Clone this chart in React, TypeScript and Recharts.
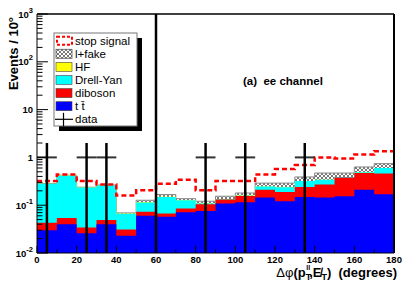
import React from 'react';
import {
  ComposedChart,
  Area,
  Line,
  Scatter,
  ErrorBar,
  XAxis,
  YAxis,
  ReferenceLine,
} from 'recharts';

const FONT = "'Liberation Sans', Arial, Helvetica, sans-serif";

// lower edge of each 10 degree bin
const binLow = [0, 10, 20, 30, 40, 50, 60, 70, 80, 90, 100, 110, 120, 130, 140, 150, 160, 170];

// per-process contributions (events / 10 deg)
const ttbar = [0.030, 0.040, 0.026, 0.040, 0.023, 0.060, 0.057, 0.071, 0.076, 0.108, 0.115, 0.145, 0.121, 0.149, 0.145, 0.154, 0.21, 0.17];
const diboson = [0.013, 0.014, 0.008, 0.009, 0.008, 0.013, 0.010, 0.014, 0.029, 0.023, 0.041, 0.065, 0.069, 0.091, 0.125, 0.226, 0.26, 0.29];
const drellYan = [0.237, 0.366, 0.200, 0.211, 0.035, 0.041, 0.082, 0.042, 0.003, 0.002, 0.002, 0.035, 0.047, 0.08, 0.07, 0.01, 0.02, 0.14];
const heavyFlavour = [0.001, 0.001, 0.001, 0.001, 0.001, 0.001, 0.001, 0.001, 0.001, 0.001, 0.001, 0.001, 0.001, 0.001, 0.001, 0.001, 0.001, 0.001];
const lepFake = [0.004, 0.004, 0.003, 0.004, 0.002, 0.012, 0.017, 0.009, 0.012, 0.020, 0.021, 0.044, 0.052, 0.069, 0.13, 0.08, 0.14, 0.14];
const stopSignal = [0.035, 0.015, 0.082, 0.005, 0.091, 0.078, 0.113, 0.203, 0.084, 0.166, 0.14, 0.15, 0.28, 0.30, 0.53, 0.48, 0.52, 0.61];

// data points
const dataX = [5, 25, 35, 85, 105, 135];
const dataY = [1, 1, 1, 1, 1, 1];
const dataErrLow = [0.99, 0.99, 0.99, 0.99, 0.99, 0.99];
const dataErrHigh = [1, 1, 1, 1, 1, 1];
const dataHalfWidth = [5, 5, 5, 5, 5, 5];

const xTicks = [0, 10, 20, 30, 40, 50, 60, 70, 80, 90, 100, 110, 120, 130, 140, 150, 160, 170, 180];
const yMajor = [0.01, 0.1, 1, 10, 100, 1000];
const yTicks: number[] = [];
yMajor.forEach((m, i) => {
  yTicks.push(m);
  if (i < yMajor.length - 1) for (let k = 2; k <= 9; k++) yTicks.push(m * k);
});

// stacked cumulative table, with a closing row at 180 for the steps
const rows = [...binLow, 180].map((x, i) => {
  const j = Math.min(i, binLow.length - 1);
  const tt = ttbar[j];
  const dib = tt + diboson[j];
  const dy = dib + drellYan[j];
  const hf = dy + heavyFlavour[j];
  const fake = hf + lepFake[j];
  const sig = fake + stopSignal[j];
  return { x, tt, dib, dy, hf, fake, sig };
});

const points = dataX.map((x, i) => ({
  x,
  y: dataY[i],
  ey: [dataErrLow[i], dataErrHigh[i]],
  ex: dataHalfWidth[i],
}));

function XTick(props: any) {
  const { x, y, payload } = props;
  const major = payload.value % 20 === 0;
  return (
    <g>
      <line x1={x} x2={x} y1={y} y2={y - (major ? 7 : 3.5)} stroke="#000" />
      {major && (
        <text x={x} y={y + 9.5} textAnchor="middle" fontSize={9.5} fontWeight="bold" fontFamily={FONT}>
          {payload.value}
        </text>
      )}
    </g>
  );
}

function YTick(props: any) {
  const { x, y, payload } = props;
  const lg = Math.log10(payload.value);
  const e = Math.round(lg);
  const major = Math.abs(lg - e) < 1e-6;
  let label: React.ReactNode = null;
  if (major) {
    label =
      e === 0 || e === 1 ? (
        String(Math.pow(10, e))
      ) : (
        <>
          10
          <tspan dy={-5} fontSize={7.5}>
            {e}
          </tspan>
        </>
      );
  }
  return (
    <g>
      <line x1={x} x2={x + (major ? 11 : 5.5)} y1={y} y2={y} stroke="#000" />
      {major && (
        <text x={x - 4} y={y + 3.5} textAnchor="end" fontSize={9.5} fontWeight="bold" fontFamily={FONT}>
          {label}
        </text>
      )}
    </g>
  );
}

const legendRows = [
  { name: 'stop signal', kind: 'signal' },
  { name: 'l+fake', kind: 'hatch' },
  { name: 'HF', kind: '#ffff00' },
  { name: 'Drell-Yan', kind: '#00ffff' },
  { name: 'diboson', kind: '#ff0000' },
  { name: 't t\u0304', kind: '#0000ff' },
  { name: 'data', kind: 'data' },
];

function Overlay() {
  return (
    <svg
      width={415}
      height={282}
      style={{ position: 'absolute', left: 0, top: 0, pointerEvents: 'none' }}
    >
      <defs>
        <pattern id="hatchL" width="4" height="4" patternUnits="userSpaceOnUse">
          <rect width="4" height="4" fill="#fff" />
          <path d="M0,0 L4,4 M4,0 L0,4" stroke="#555" strokeWidth="0.8" />
        </pattern>
      </defs>
      {/* frame */}
      <line x1={37} x2={394} y1={14} y2={14} stroke="#000" strokeWidth={1.5} />
      <line x1={394} x2={394} y1={14} y2={253} stroke="#000" strokeWidth={2} />

      {/* legend */}
      <rect x={59} y={38} width={83} height={93} fill="#000" />
      <rect x={54} y={33} width={83} height={93} fill="#fff" stroke="#777" strokeWidth={1} />
      {legendRows.map((r, i) => {
        const cy = 40.7 + i * 13.1;
        let sw: React.ReactNode;
        if (r.kind === 'signal') {
          sw = (
            <rect x={57} y={cy - 4} width={15} height={8} fill="#fff" stroke="#ff0000" strokeWidth={2} strokeDasharray="3 2" />
          );
        } else if (r.kind === 'hatch') {
          sw = <rect x={56} y={cy - 4.5} width={16} height={9} fill="url(#hatchL)" stroke="#555" strokeWidth={0.8} />;
        } else if (r.kind === 'data') {
          sw = (
            <g>
              <line x1={55} x2={73} y1={cy} y2={cy} stroke="#000" strokeWidth={1.2} />
              <line x1={63.5} x2={63.5} y1={cy - 6.5} y2={cy + 7} stroke="#000" strokeWidth={1.2} />
            </g>
          );
        } else {
          sw = <rect x={56} y={cy - 4.5} width={16} height={9} fill={r.kind} stroke="#444" strokeWidth={0.6} />;
        }
        return (
          <g key={r.name}>
            {sw}
            <text x={75} y={cy + 4} fontSize={11.5} fontFamily={FONT} fill="#000">
              {r.name}
            </text>
          </g>
        );
      })}

      {/* channel label */}
      <text x={243} y={85} fontSize={11.5} fontWeight="bold" fontFamily={FONT} style={{ whiteSpace: 'pre' }}>
        (a)  ee channel
      </text>

      {/* y title */}
      <text
        transform="translate(18,53.5) rotate(-90)"
        textAnchor="middle"
        fontSize={13}
        fontWeight="bold"
        fontFamily={FONT}
      >
        Events / 10°
      </text>

      {/* x title */}
      <text
        x={397}
        y={276.5}
        textAnchor="end"
        fontSize={13}
        fontWeight="bold"
        fontFamily={FONT}
        style={{ whiteSpace: 'pre' }}
      >
        <tspan fontWeight="normal">Δφ</tspan>(p
        <tspan dy={3} fontSize={9}>T</tspan>
        <tspan dx={-5} dy={-10} fontSize={7}>ll</tspan>
        <tspan dx={-1} dy={7}>,E̸</tspan>
        <tspan dy={3} fontSize={9}>T</tspan>
        <tspan dy={-3}>)  (degrees)</tspan>
      </text>
    </svg>
  );
}

export default function App() {
  return (
    <div style={{ position: 'absolute', left: 0, top: 0, width: 415, height: 282, background: '#fff' }}>
      <ComposedChart
        width={415}
        height={282}
        data={rows}
        margin={{ top: 14, right: 21, bottom: 0, left: 0 }}
      >
        <defs>
          <pattern id="hatch" width="4" height="4" patternUnits="userSpaceOnUse">
            <rect width="4" height="4" fill="#fff" />
            <path d="M0,0 L4,4 M4,0 L0,4" stroke="#555" strokeWidth="0.8" />
          </pattern>
        </defs>
        <XAxis
          dataKey="x"
          type="number"
          domain={[0, 180]}
          ticks={xTicks}
          interval={0}
          height={29}
          tickSize={0}
          tickMargin={0}
          tickLine={false}
          tick={<XTick />}
          axisLine={{ stroke: '#000' }}
          allowDataOverflow
        />
        <YAxis
          type="number"
          scale="log"
          domain={[0.01, 1000]}
          ticks={yTicks}
          interval={0}
          width={37}
          tickSize={0}
          tickMargin={0}
          tickLine={false}
          tick={<YTick />}
          axisLine={{ stroke: '#000' }}
          allowDataOverflow
        />
        <Area type="stepAfter" dataKey="fake" baseValue={0.01} fill="url(#hatch)" fillOpacity={1} stroke="#888" strokeWidth={1} dot={false} activeDot={false} isAnimationActive={false} />
        <Area type="stepAfter" dataKey="hf" baseValue={0.01} fill="#ffff00" fillOpacity={1} stroke="none" dot={false} activeDot={false} isAnimationActive={false} />
        <Area type="stepAfter" dataKey="dy" baseValue={0.01} fill="#00ffff" fillOpacity={1} stroke="none" dot={false} activeDot={false} isAnimationActive={false} />
        <Area type="stepAfter" dataKey="dib" baseValue={0.01} fill="#ff0000" fillOpacity={1} stroke="none" dot={false} activeDot={false} isAnimationActive={false} />
        <Area type="stepAfter" dataKey="tt" baseValue={0.01} fill="#0000ff" fillOpacity={1} stroke="none" dot={false} activeDot={false} isAnimationActive={false} />
        <Line type="stepAfter" dataKey="sig" stroke="#ff0000" strokeWidth={2.5} strokeDasharray="5 3" dot={false} activeDot={false} isAnimationActive={false} />
        <Scatter data={points} dataKey="y" shape={() => <g />} isAnimationActive={false}>
          <ErrorBar dataKey="ex" direction="x" width={0} stroke="#333" strokeWidth={2} />
          <ErrorBar dataKey="ey" direction="y" width={0} stroke="#000" strokeWidth={2.5} />
        </Scatter>
        <ReferenceLine x={60} stroke="#000" strokeWidth={2.5} />
      </ComposedChart>
      <Overlay />
    </div>
  );
}
